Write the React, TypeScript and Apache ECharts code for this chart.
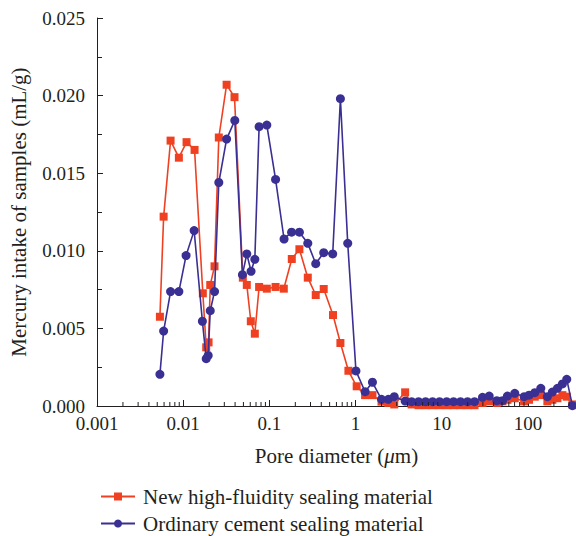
import React, { useEffect, useRef } from "react";
import * as echarts from "echarts";

const poreNew = [
  0.00537, 0.00593, 0.00714, 0.00891, 0.01094, 0.01355, 0.0169, 0.0185, 0.0197, 0.0206,
  0.0231, 0.0259, 0.0319, 0.0394, 0.0492, 0.0547, 0.0609, 0.0678, 0.076, 0.0934,
  0.118, 0.147, 0.182, 0.223, 0.279, 0.345, 0.427, 0.547, 0.667, 0.826,
  1.03, 1.29, 1.57, 2.0, 2.4, 2.81, 3.76, 4.47, 5.38, 6.49,
  7.82, 9.43, 11.4, 13.7, 16.5, 19.9, 24.0, 29.7, 35.5, 43.5,
  50.7, 57.8, 70.3, 90.3, 103, 120, 141, 168, 192, 220,
  251, 282, 328,
];
const intakeNew = [
  0.00575, 0.0122, 0.0171, 0.016, 0.017, 0.0165, 0.00726, 0.00378, 0.0041, 0.0078,
  0.009, 0.0173, 0.0207, 0.0199, 0.00827, 0.0078, 0.00546, 0.00466, 0.00767, 0.00756,
  0.00767, 0.00756, 0.00947, 0.0101, 0.00827, 0.00715, 0.00754, 0.00586, 0.00406, 0.00227,
  0.00127, 0.0007, 0.0007, 0.00028, 0.0002, 0.0001, 0.00088, 0.0001, 0.00005, 0.00005,
  0.00005, 0.00005, 0.00005, 0.00005, 0.00005, 0.00005, 0.00005, 0.0002, 0.0003, 0.0002,
  0.0003, 0.0004, 0.0005, 0.0003, 0.0004, 0.0006, 0.0007, 0.0003, 0.0004, 0.0005,
  0.0007, 0.0006, 0.0001,
];

const poreOrdinary = [
  0.00537, 0.00593, 0.00714, 0.00891, 0.0108, 0.0134, 0.0167, 0.0185, 0.0195, 0.0206,
  0.0231, 0.0259, 0.0319, 0.0397, 0.0487, 0.0547, 0.0613, 0.0678, 0.076, 0.0934,
  0.118, 0.148, 0.181, 0.223, 0.279, 0.345, 0.427, 0.543, 0.667, 0.811,
  1.01, 1.29, 1.57, 2.0, 2.4, 2.81, 3.76, 4.47, 5.38, 6.49,
  7.82, 9.43, 11.4, 13.7, 16.5, 19.9, 24.0, 29.7, 35.5, 43.5,
  50.7, 57.8, 70.3, 90.3, 103, 120, 141, 168, 192, 220,
  251, 282, 328,
];
const intakeOrdinary = [
  0.00204, 0.00483, 0.00737, 0.00737, 0.00969, 0.0113, 0.00546, 0.00305, 0.00326, 0.00614,
  0.00737, 0.0144, 0.0172, 0.0184, 0.00846, 0.0098, 0.00868, 0.00945, 0.018, 0.0181,
  0.0146, 0.01076, 0.0112, 0.0112, 0.01048, 0.00917, 0.00988, 0.0098, 0.0198, 0.01048,
  0.00226, 0.00092, 0.00153, 0.00043, 0.00043, 0.0006, 0.00032, 0.00028, 0.00028, 0.00028,
  0.00028, 0.00028, 0.00028, 0.00028, 0.00028, 0.00028, 0.00028, 0.00056, 0.00064, 0.00034,
  0.00034, 0.00064, 0.00082, 0.0006, 0.0007, 0.00086, 0.00114, 0.0006, 0.0009, 0.00114,
  0.00142, 0.00172, 0.00002,
];

const xTickLabels = ["0.001", "0.01", "0.1", "1", "10", "100"];
const yTickLabels = ["0.000", "0.005", "0.010", "0.015", "0.020", "0.025"];

const seriesNames = ["New high-fluidity sealing material", "Ordinary cement sealing material"];

const X_MIN = 0.001;
const X_MAX = 361;

function buildMinorTicks(): number[] {
  const out: number[] = [];
  for (let d = -3; d <= 2; d++) {
    for (let k = 2; k <= 9; k++) {
      const v = k * Math.pow(10, d);
      if (v < X_MAX) out.push(v);
    }
  }
  return out;
}

const FONT = "'Liberation Serif', 'DejaVu Serif', serif";
const INK = "#231f20";
const RED = "#ef4122";
const BLUE = "#3a2f92";

const legendBase = {
  orient: "horizontal",
  left: 95,
  itemWidth: 34,
  itemHeight: 10,
  textStyle: { fontFamily: FONT, fontSize: 21, color: INK, padding: [0, 0, 0, 3] },
};

export default function App() {
  const ref = useRef<HTMLDivElement>(null);
  useEffect(() => {
    if (!ref.current) return;
    const chart = echarts.init(ref.current, null, { renderer: "svg" });
    const minor = buildMinorTicks();
    const option: any = {
      animation: false,
      backgroundColor: "#ffffff",
      grid: { left: 95, right: 0, top: 18, bottom: 130, containLabel: false },
      legend: [
        { ...legendBase, top: 481, data: [seriesNames[0]] },
        { ...legendBase, top: 508, data: [seriesNames[1]] },
      ],
      xAxis: {
        type: "log",
        logBase: 10,
        min: X_MIN,
        max: X_MAX,
        name: "Pore diameter ({i|μ}m)",
        nameLocation: "middle",
        nameGap: 39,
        nameTextStyle: {
          fontFamily: FONT,
          fontSize: 21,
          color: INK,
          rich: { i: { fontFamily: FONT, fontSize: 21, fontStyle: "italic", color: INK } },
        },
        axisLine: { show: true, lineStyle: { color: INK, width: 1 } },
        axisTick: { show: true, inside: true, length: 6, lineStyle: { color: INK } },
        axisLabel: {
          fontFamily: FONT,
          fontSize: 19,
          color: INK,
          margin: 8,
          showMaxLabel: false,
          formatter: (v: number) => {
            const e = Math.round(Math.log10(v));
            const idx = e + 3;
            if (Math.abs(Math.log10(v) - e) > 1e-6) return "";
            return xTickLabels[idx] ?? "";
          },
        },
        splitLine: { show: false },
      },
      yAxis: {
        type: "value",
        min: 0,
        max: 0.025,
        interval: 0.005,
        name: "Mercury intake of samples (mL/g)",
        nameLocation: "middle",
        nameGap: 68,
        nameTextStyle: { fontFamily: FONT, fontSize: 21, color: INK },
        axisLine: { show: true, lineStyle: { color: INK, width: 1 } },
        axisTick: { show: true, inside: true, length: 6, lineStyle: { color: INK } },
        minorTick: { show: true, splitNumber: 2, length: 5, lineStyle: { color: INK } },
        axisLabel: {
          fontFamily: FONT,
          fontSize: 19,
          color: INK,
          margin: 12,
          formatter: (v: number) => yTickLabels[Math.round(v / 0.005)] ?? "",
        },
        splitLine: { show: false },
      },
      series: [
        {
          name: seriesNames[0],
          type: "line",
          data: poreNew.map((x, i) => [x, intakeNew[i]]),
          symbol: "rect",
          symbolSize: 8,
          lineStyle: { color: RED, width: 1.6 },
          itemStyle: { color: RED },
          z: 2,
        },
        {
          name: seriesNames[1],
          type: "line",
          data: poreOrdinary.map((x, i) => [x, intakeOrdinary[i]]),
          symbol: "circle",
          symbolSize: 9,
          lineStyle: { color: BLUE, width: 1.6 },
          itemStyle: { color: BLUE },
          z: 3,
        },
        {
          type: "custom",
          silent: true,
          z: 5,
          data: minor.map((v) => [v, 0]),
          renderItem: (_p: any, api: any) => {
            const pt = api.coord([api.value(0), 0]);
            return {
              type: "line",
              shape: { x1: pt[0], y1: pt[1], x2: pt[0], y2: pt[1] - 4 },
              style: { stroke: INK, lineWidth: 1 },
            };
          },
        },
      ],
    };
    chart.setOption(option);
    return () => chart.dispose();
  }, []);
  return (
    <div
      ref={ref}
      style={{ position: "fixed", left: 0, top: 0, width: 576, height: 536 }}
    />
  );
}
